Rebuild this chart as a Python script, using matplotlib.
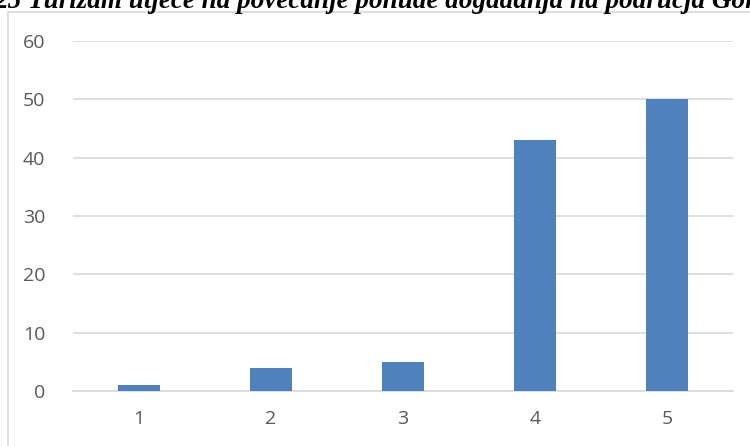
import matplotlib
matplotlib.use("Agg")
import matplotlib.pyplot as plt
from matplotlib.patches import Rectangle

# podaci
categories = ["1", "2", "3", "4", "5"]
values = [1, 4, 5, 43, 50]
yticks = [0, 10, 20, 30, 40, 50, 60]
title = "25 Turizam utječe na povećanje ponude događanja na područja Gorskog kotara"

fig = plt.figure(figsize=(7.5, 4.46), dpi=100)
W, H = 750, 446

# okvir grafikona
fig.patches.append(Rectangle((8 / W, -0.05), 1.0, 1 - 12 / H + 0.05, transform=fig.transFigure,
                             fill=False, edgecolor="#d9d9d9", linewidth=1.2))

ax = fig.add_axes([73 / W, 1 - 391 / H, 660 / W, 350 / H])
x = range(1, len(categories) + 1)
ax.bar(x, values, width=0.32, color="#4f81bd", zorder=3)

ax.set_xlim(0.5, 5.5)
ax.set_ylim(0, 60)
ax.set_yticks(yticks)
ax.set_xticks(list(x))
ax.set_xticklabels(categories)
ax.grid(axis="y", color="#d9d9d9", linewidth=1.2, zorder=0)
for s in ["top", "right", "left"]:
    ax.spines[s].set_visible(False)
ax.spines["bottom"].set_color("#d9d9d9")
ax.spines["bottom"].set_linewidth(1.2)
ax.tick_params(length=0, labelsize=14, labelcolor="#595959")
ax.tick_params(axis="x", pad=14)
ax.tick_params(axis="y", pad=20)
for lab in ax.get_xticklabels() + ax.get_yticklabels():
    lab.set_family("Open Sans")

# naslov, gornji dio odrezan kao na slici
fig.text(-0.008, 1 - 8 / H, title, fontsize=19.5, fontweight="bold", fontstyle="italic",
         family="Liberation Serif", ha="left", va="baseline", color="black")

fig.savefig("out.png", dpi=100)
